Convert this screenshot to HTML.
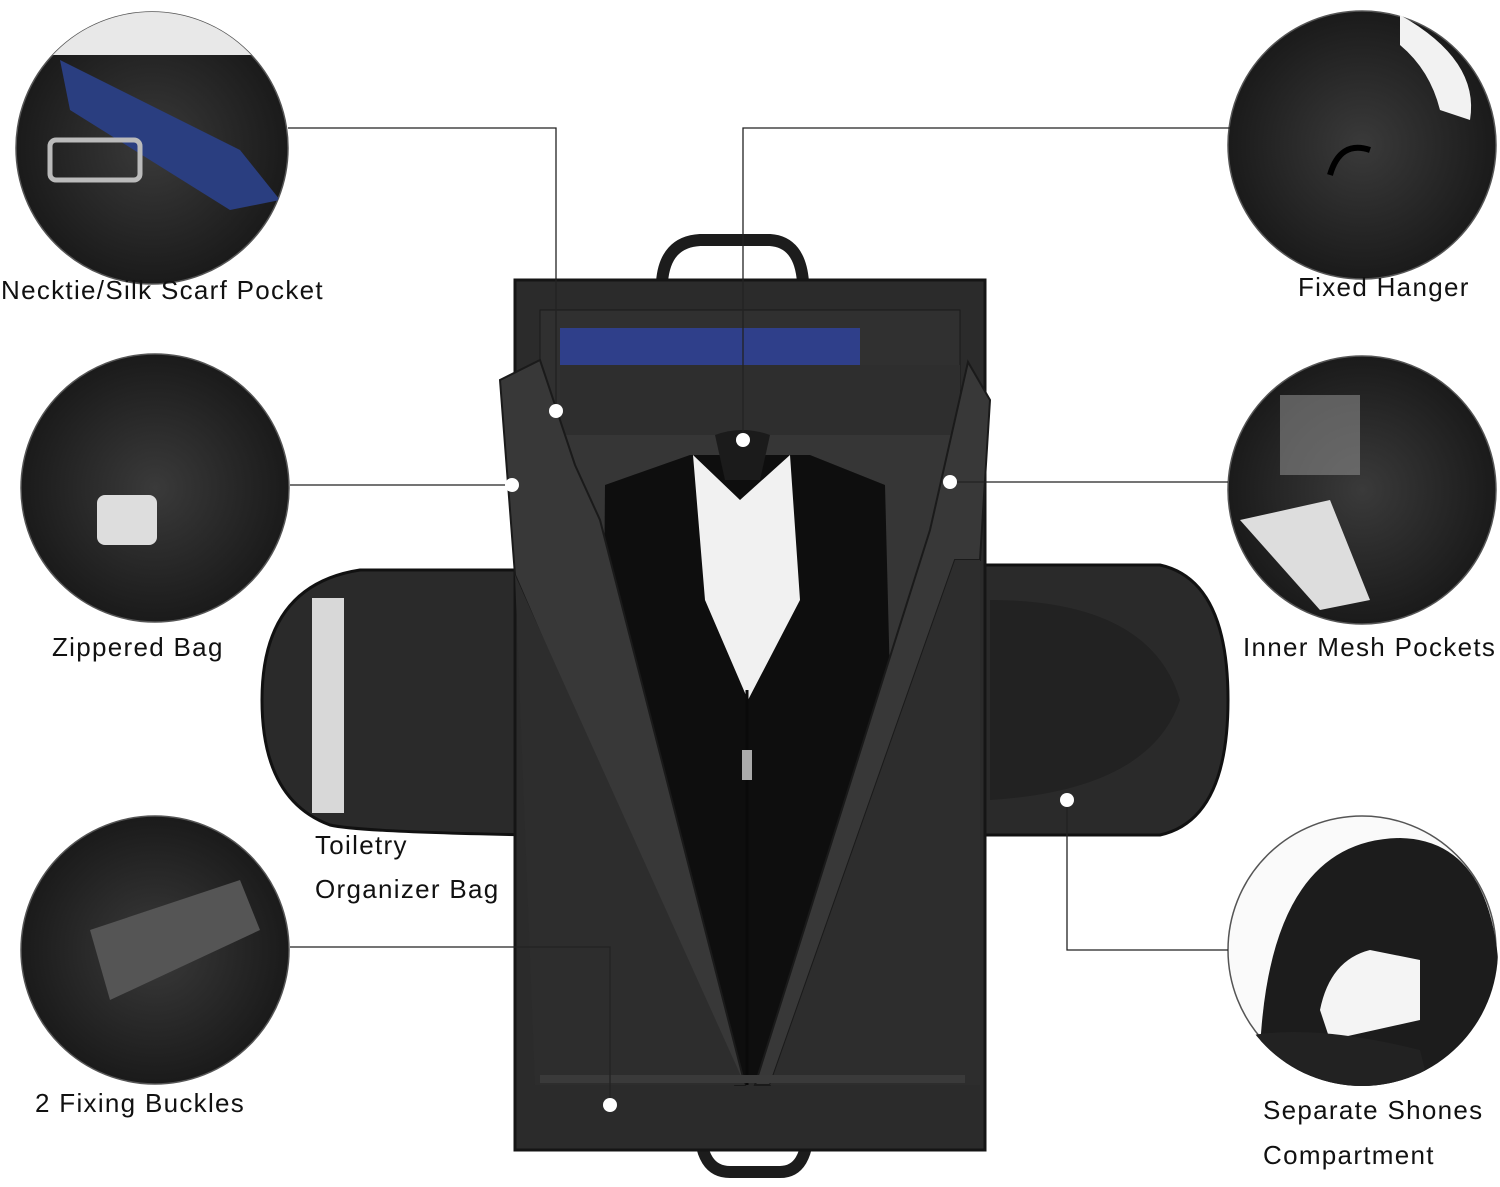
<!DOCTYPE html>
<html><head><style>
body{margin:0;background:#fff;}
svg{display:block}
text{font-family:"Liberation Sans",sans-serif;font-size:26px;letter-spacing:1.3px;fill:#111;}
</style></head><body>
<svg width="1500" height="1187" viewBox="0 0 1500 1187">
<defs>
<radialGradient id="g1" cx="50%" cy="50%" r="60%"><stop offset="0" stop-color="#3a3a3a"/><stop offset="1" stop-color="#141414"/></radialGradient>
<clipPath id="c1"><circle cx="152" cy="148" r="136"/></clipPath>
<clipPath id="c6"><circle cx="1362" cy="950" r="136"/></clipPath>
</defs>
<circle cx="152" cy="148" r="136" fill="url(#g1)" stroke="#555" stroke-width="1.5"/>
<g clip-path="url(#c1)">
<rect x="20" y="10" width="270" height="45" fill="#e8e8e8"/>
<polygon points="60,60 240,150 280,200 230,210 70,110" fill="#2a3e80"/>
<rect x="50" y="140" width="90" height="40" rx="6" fill="none" stroke="#bbb" stroke-width="5"/>
</g>
<circle cx="155" cy="488" r="134" fill="url(#g1)" stroke="#555" stroke-width="1.5"/>
<rect x="97" y="495" width="60" height="50" rx="8" fill="#ddd"/>
<circle cx="155" cy="950" r="134" fill="url(#g1)" stroke="#555" stroke-width="1.5"/>
<polygon points="90,930 240,880 260,930 110,1000" fill="#555"/>
<circle cx="1362" cy="145" r="134" fill="url(#g1)" stroke="#555" stroke-width="1.5"/>
<path d="M1330,175 Q1340,140 1370,150" stroke="#000" stroke-width="6" fill="none"/>
<path d="M1400,15 Q1480,60 1470,120 L1440,110 Q1430,70 1400,45Z" fill="#f2f2f2"/>
<circle cx="1362" cy="490" r="134" fill="url(#g1)" stroke="#555" stroke-width="1.5"/>
<rect x="1280" y="395" width="80" height="80" fill="#888" opacity="0.6"/>
<polygon points="1240,520 1330,500 1370,600 1320,610" fill="#ddd"/>
<circle cx="1362" cy="950" r="134" fill="#fafafa" stroke="#555" stroke-width="1.5"/>
<g clip-path="url(#c6)">
<path d="M1260,1050 Q1270,840 1400,838 Q1500,840 1500,1000 L1500,1090 L1260,1090Z" fill="#1c1c1c"/>
<path d="M1320,1010 Q1330,960 1370,950 L1420,960 L1420,1020 L1330,1040Z" fill="#f4f4f4"/>
<path d="M1230,1040 Q1300,1020 1420,1050 L1430,1090 L1230,1090Z" fill="#222"/>
</g>
<path d="M662,282 Q665,242 700,240 L770,240 Q800,242 803,282" fill="none" stroke="#1c1c1c" stroke-width="12"/>
<path d="M700,1125 Q700,1172 730,1172 L780,1172 Q808,1172 808,1125" fill="none" stroke="#1c1c1c" stroke-width="12"/>
<path d="M535,570 L360,570 Q262,585 262,700 Q262,800 330,825 Q360,832 535,835Z" fill="#2a2a2a" stroke="#111" stroke-width="3"/>
<rect x="312" y="598" width="32" height="215" fill="#d8d8d8"/>
<path d="M965,565 L1160,565 Q1228,580 1228,700 Q1228,820 1160,835 L965,835Z" fill="#2a2a2a" stroke="#111" stroke-width="3"/>
<path d="M990,600 Q1150,600 1180,700 Q1150,790 990,800Z" fill="#222"/>
<rect x="515" y="280" width="470" height="870" fill="#2b2b2b" stroke="#151515" stroke-width="3"/>
<rect x="540" y="310" width="420" height="125" fill="#303030" stroke="#1a1a1a"/>
<rect x="560" y="328" width="300" height="38" fill="#2f3f8a"/>
<rect x="560" y="365" width="400" height="70" fill="#2e2e2e"/>
<rect x="540" y="435" width="420" height="640" fill="#363636"/>
<polygon points="605,485 690,455 810,455 885,485 900,1075 600,1075" fill="#0e0e0e"/>
<polygon points="693,455 740,500 790,455 800,600 748,700 705,600" fill="#f1f1f1"/>
<path d="M715,435 Q742,425 770,435 L760,480 L725,480Z" fill="#1b1b1b"/>
<polygon points="500,380 540,360 575,465 600,520 745,1085 735,1085 515,575" fill="#383838" stroke="#1a1a1a" stroke-width="2"/>
<polygon points="515,575 745,1085 535,1085" fill="#2d2d2d"/>
<polygon points="968,362 990,400 980,560 955,560 770,1085 755,1085 930,530" fill="#383838" stroke="#1a1a1a" stroke-width="2"/>
<polygon points="955,560 980,560 980,1085 770,1085" fill="#2d2d2d"/>
<line x1="747" y1="690" x2="747" y2="1085" stroke="#0a0a0a" stroke-width="3"/>
<rect x="742" y="750" width="10" height="30" fill="#aaa"/>
<rect x="540" y="1075" width="425" height="8" fill="#3a3a3a"/>
<g stroke="#222" stroke-width="1.3" fill="none">
<polyline points="288,128 556,128 556,410"/>
<polyline points="290,485 512,485"/>
<polyline points="1230,128 743,128 743,440"/>
<polyline points="1228,482 950,482"/>
<polyline points="1228,950 1067,950 1067,800"/>
<polyline points="290,947 610,947 610,1105"/>
</g>
<g fill="#fff">
<circle cx="556" cy="411" r="7"/><circle cx="512" cy="485" r="7"/><circle cx="743" cy="440" r="7"/>
<circle cx="950" cy="482" r="7"/><circle cx="1067" cy="800" r="7"/><circle cx="610" cy="1105" r="7"/>
</g>
<text x="1" y="299">Necktie/Silk Scarf Pocket</text>
<text x="1298" y="296">Fixed Hanger</text>
<text x="52" y="656">Zippered Bag</text>
<text x="1243" y="656">Inner Mesh Pockets</text>
<text x="315" y="854">Toiletry</text>
<text x="315" y="898">Organizer Bag</text>
<text x="35" y="1112">2 Fixing Buckles</text>
<text x="1263" y="1119">Separate Shones</text>
<text x="1263" y="1164">Compartment</text>
</svg>
</body></html>
